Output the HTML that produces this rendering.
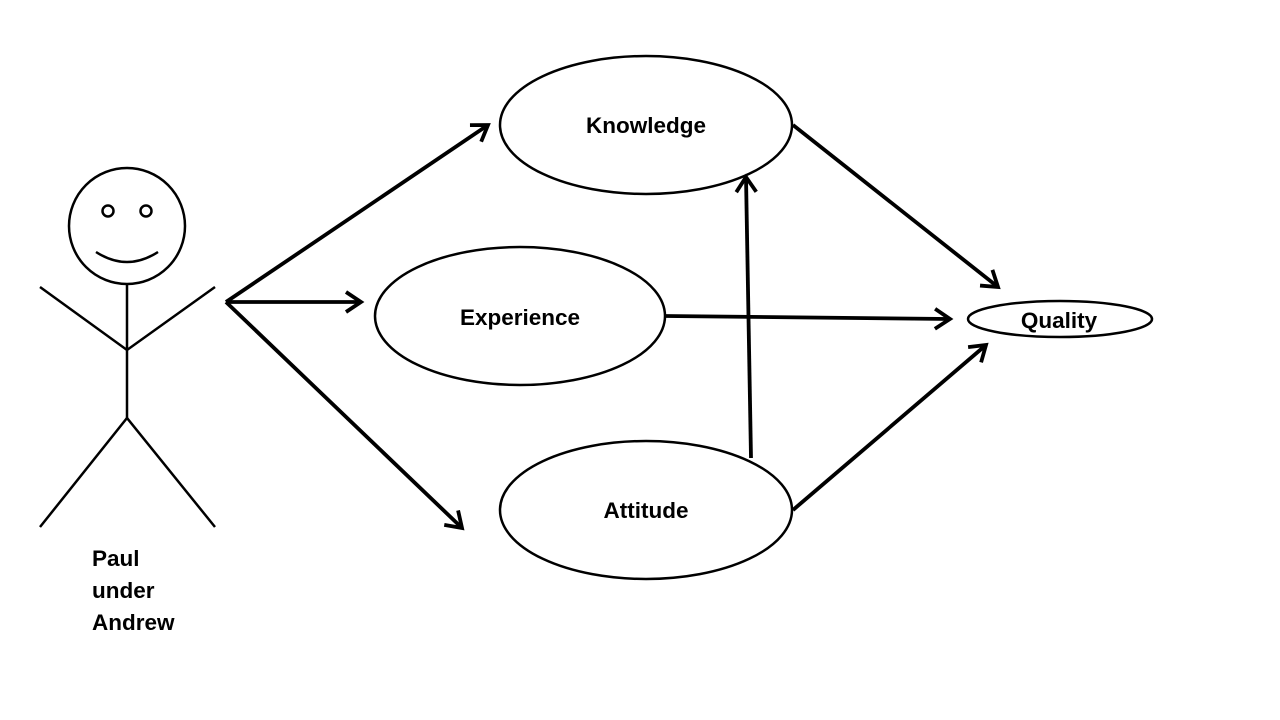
<!DOCTYPE html>
<html><head><meta charset="utf-8"><style>
html,body{margin:0;padding:0;background:#fff;}
svg{display:block;}
text{font-family:"Liberation Sans",sans-serif;font-weight:bold;font-size:22.5px;fill:#000;}
</style></head><body>
<svg width="1280" height="720" viewBox="0 0 1280 720" xmlns="http://www.w3.org/2000/svg">
<defs>
<marker id="a" markerWidth="24" markerHeight="26" refX="17" refY="12" orient="auto" markerUnits="userSpaceOnUse">
<path d="M2,2 L17,12 L2,22" fill="none" stroke="#000" stroke-width="3.8"/>
</marker>
</defs>
<g fill="none" stroke="#000" stroke-width="2.5">
<circle cx="127" cy="226" r="58"/>
<circle cx="108" cy="211" r="5.5"/>
<circle cx="146" cy="211" r="5.5"/>
<path d="M96,252 Q127,272 158,252"/>
<line x1="127" y1="285" x2="127" y2="418"/>
<polyline points="40,287 127,350 215,287"/>
<polyline points="40,527 127,418 215,527"/>
<ellipse cx="646" cy="125" rx="146" ry="69"/>
<ellipse cx="520" cy="316" rx="145" ry="69"/>
<ellipse cx="646" cy="510" rx="146" ry="69"/>
<ellipse cx="1060" cy="319" rx="92" ry="18"/>
</g>
<g stroke="#000" stroke-width="3.8" fill="none">
<line x1="226" y1="302" x2="488" y2="125" marker-end="url(#a)"/>
<line x1="226" y1="302" x2="361" y2="302" marker-end="url(#a)"/>
<line x1="226" y1="302" x2="462" y2="528" marker-end="url(#a)"/>
<line x1="793" y1="125" x2="998" y2="287" marker-end="url(#a)"/>
<line x1="666" y1="316" x2="950" y2="319" marker-end="url(#a)"/>
<line x1="793" y1="510" x2="986" y2="345" marker-end="url(#a)"/>
<line x1="751" y1="458" x2="746" y2="177" marker-end="url(#a)"/>
</g>
<text x="646" y="133" text-anchor="middle">Knowledge</text>
<text x="520" y="325" text-anchor="middle">Experience</text>
<text x="646" y="518" text-anchor="middle">Attitude</text>
<text x="1059" y="328" text-anchor="middle">Quality</text>
<text x="92" y="566">Paul</text>
<text x="92" y="598">under</text>
<text x="92" y="630">Andrew</text>
</svg>
</body></html>
